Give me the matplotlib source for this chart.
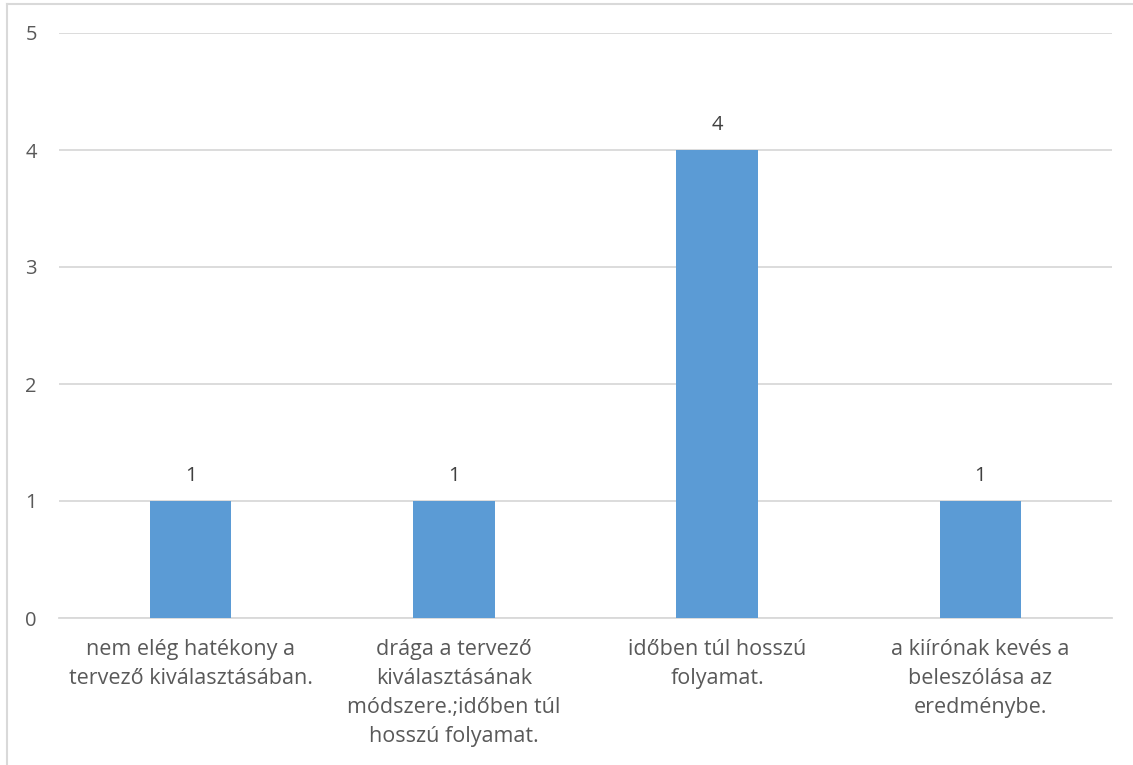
import matplotlib.pyplot as plt
from matplotlib.lines import Line2D

# data
categories = [
    "nem elég hatékony a\ntervező kiválasztásában.",
    "drága a tervező\nkiválasztásának\nmódszere.;időben túl\nhosszú folyamat.",
    "időben túl hosszú\nfolyamat.",
    "a kiírónak kevés a\nbeleszólása az\neredménybe.",
]
values = [1, 1, 4, 1]
y_ticks = [0, 1, 2, 3, 4, 5]

bar_color = "#5B9BD5"
text_color = "#595959"
grid_color = "#D9D9D9"

plt.rcParams["font.family"] = ["Open Sans", "DejaVu Sans"]

fig = plt.figure(figsize=(11.33, 7.65), dpi=100)
ax = fig.add_axes([59 / 1133, 1 - 618 / 765, (1112 - 59) / 1133, (618 - 33) / 765])

x = list(range(len(categories)))
bars = ax.bar(x, values, width=0.31, color=bar_color, zorder=3)

for b, v in zip(bars, values):
    ax.annotate(str(v), (b.get_x() + b.get_width() / 2, v), xytext=(0, 18),
                textcoords="offset points", ha="center", va="center",
                fontsize=14.5, color="#404040")

ax.set_xlim(-0.5, len(categories) - 0.5)
ax.set_ylim(0, 5)
ax.set_yticks(y_ticks)
ax.set_xticks(x)
ax.set_xticklabels(categories, fontsize=15.5, color=text_color, linespacing=1.5)
ax.tick_params(axis="y", labelsize=14.5, labelcolor=text_color, length=0, pad=16)
ax.tick_params(axis="x", length=0, pad=15)
ax.grid(axis="y", color=grid_color, linewidth=1.3, zorder=0)
for side in ["top", "right", "left"]:
    ax.spines[side].set_visible(False)
ax.spines["bottom"].set_color(grid_color)
ax.spines["bottom"].set_linewidth(1.3)

# outer chart frame (left and top edges visible)
fig.add_artist(Line2D([7 / 1133, 7 / 1133], [0, 1 - 4 / 765], color=grid_color, linewidth=1.5))
fig.add_artist(Line2D([7 / 1133, 1], [1 - 4 / 765, 1 - 4 / 765], color=grid_color, linewidth=1.5))

fig.savefig("out.png", dpi=100)
